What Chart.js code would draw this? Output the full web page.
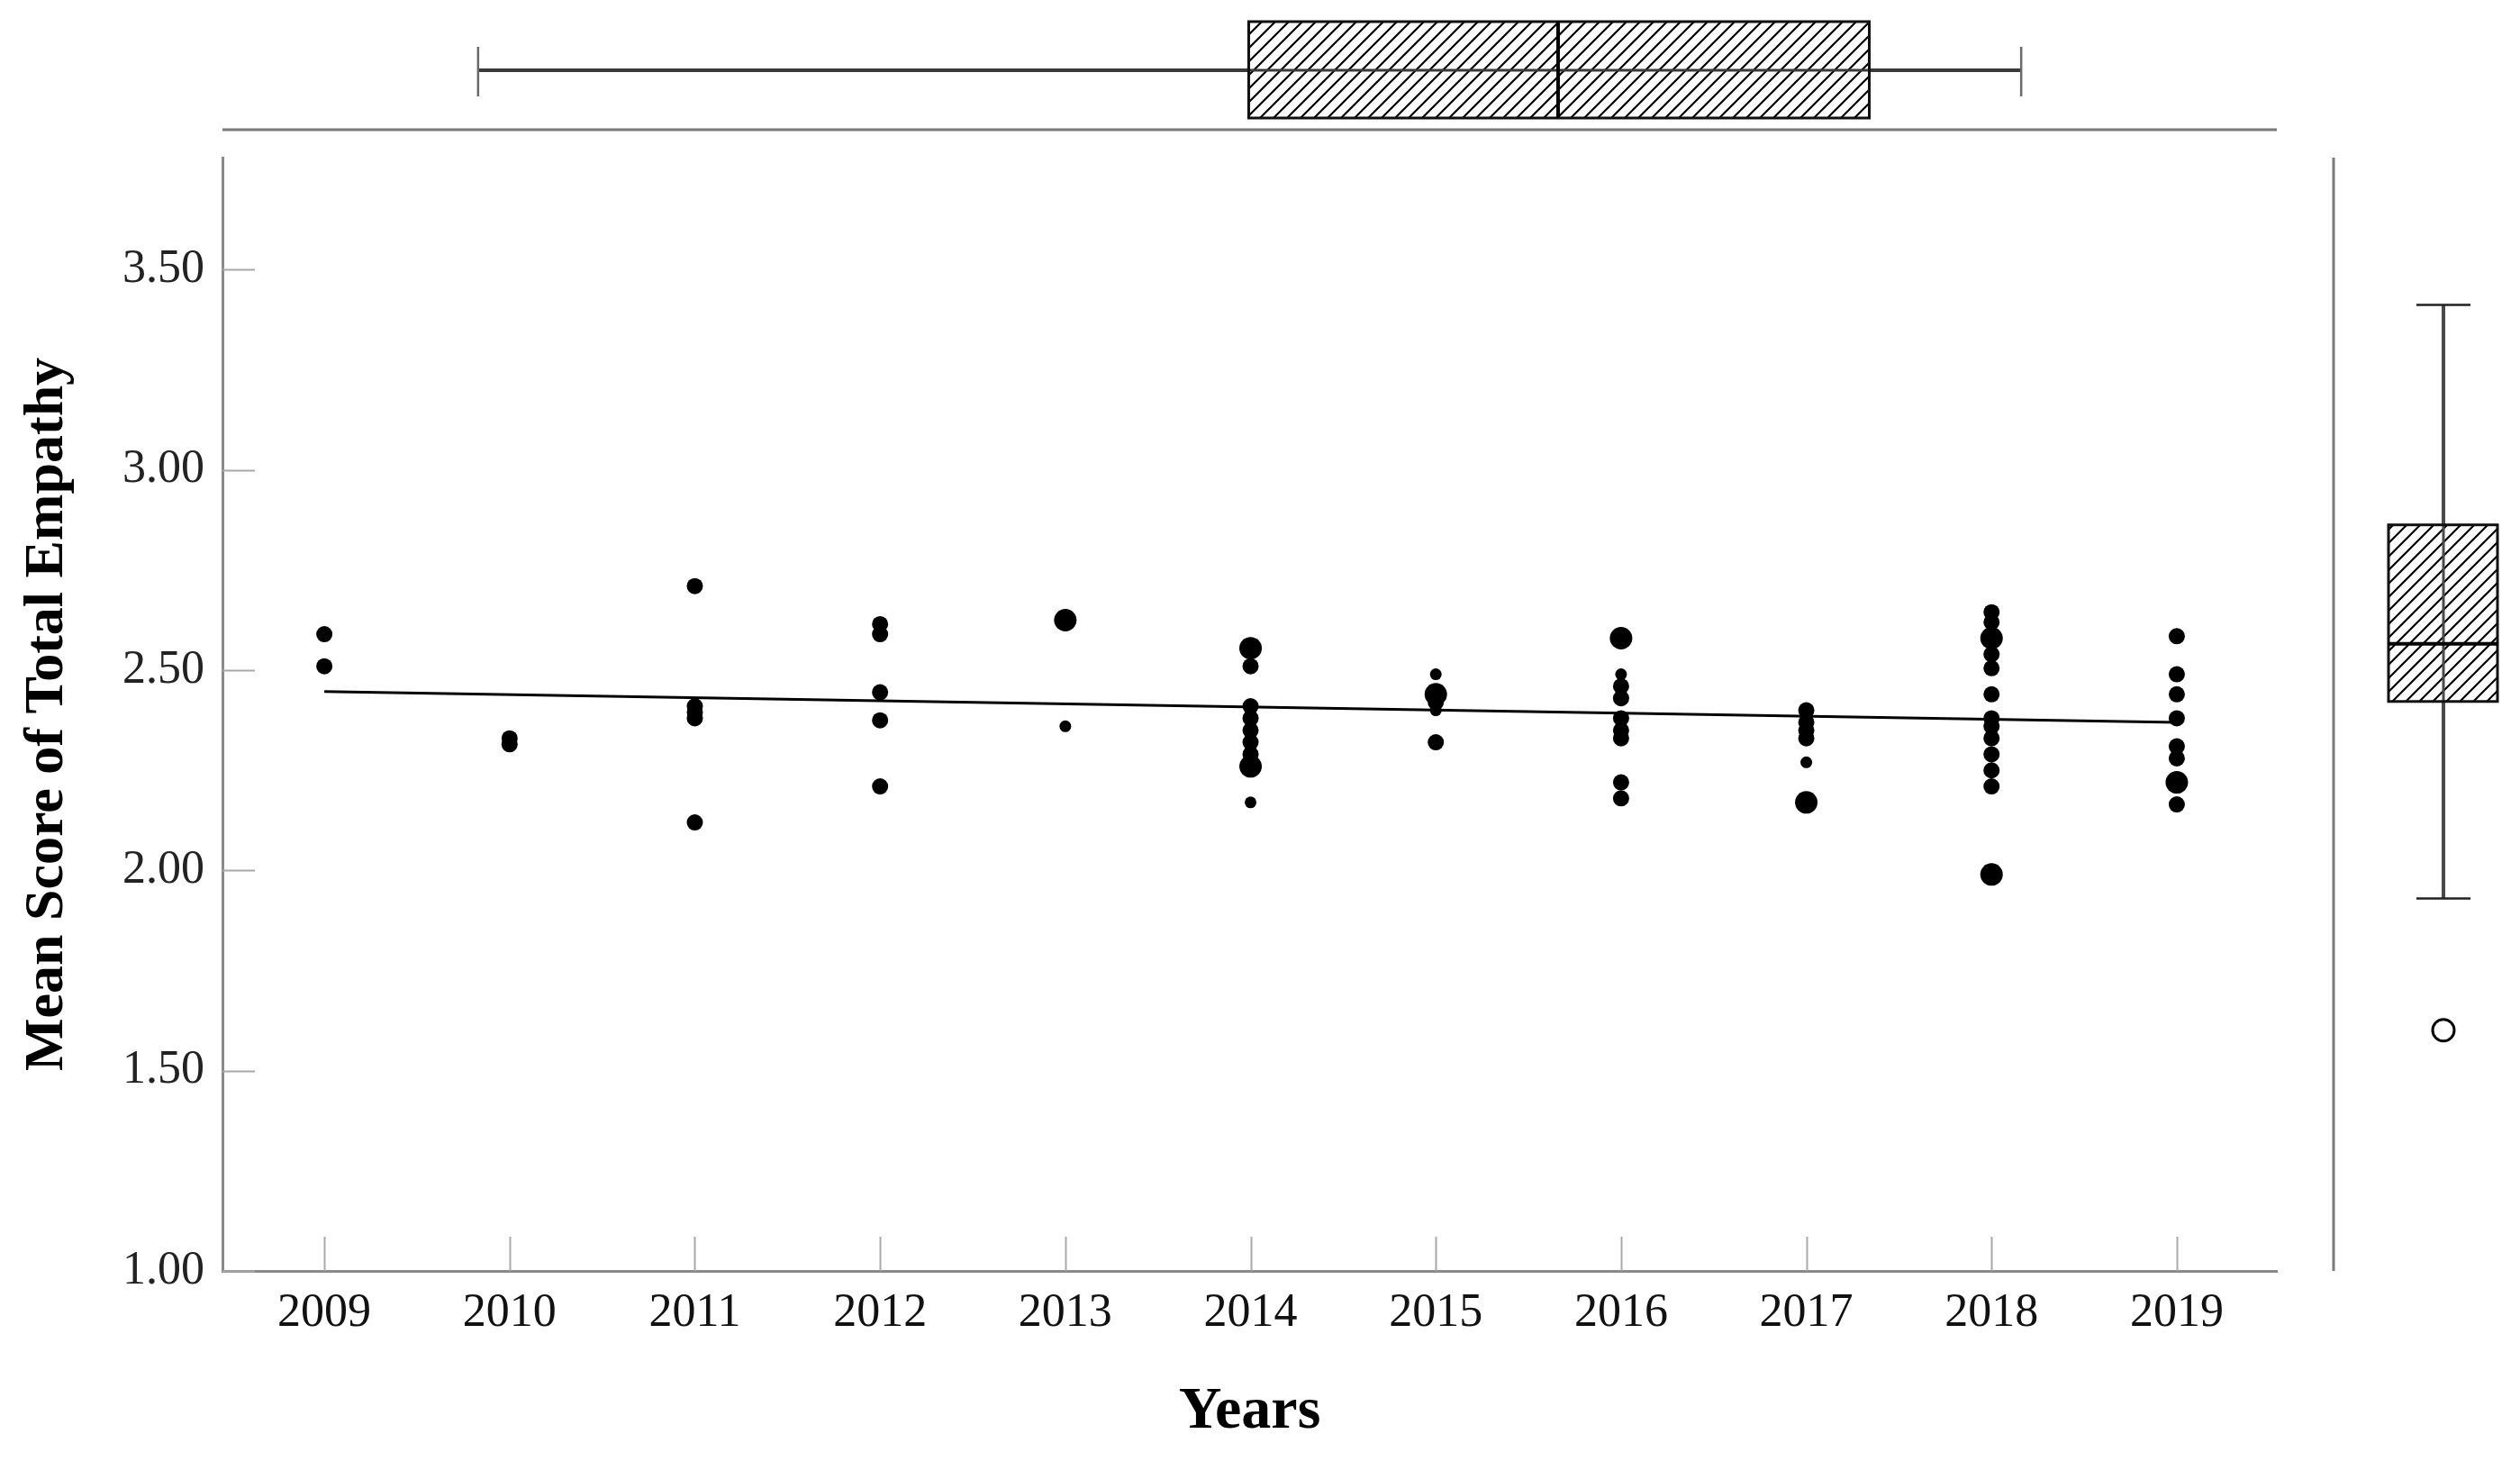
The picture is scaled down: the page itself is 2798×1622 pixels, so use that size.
<!DOCTYPE html>
<html>
<head>
<meta charset="utf-8">
<title>Mean Score of Total Empathy by Year</title>
<script src="https://cdn.jsdelivr.net/npm/chart.js@4.4.4/dist/chart.umd.min.js"></script>
<style>
  html, body { margin: 0; padding: 0; background: #fff; }
  #wrap { width: 2798px; height: 1622px; }
</style>
</head>
<body>
<div id="wrap"><canvas id="chart" width="2798" height="1622"></canvas></div>
<script>
// ─── Data ───────────────────────────────────────────────────────────────────

const YEARS = [2009, 2010, 2011, 2012, 2013, 2014, 2015, 2016, 2017, 2018, 2019];
const Y_TICKS = [1.00, 1.50, 2.00, 2.50, 3.00, 3.50];

// scores per year, grouped by marker size (index matches YEARS)
const SCORES = [
    [2.59, 2.51],
    [2.33, 2.315],
    [2.71, 2.41, 2.395, 2.38, 2.12],
    [2.615, 2.59, 2.445, 2.375, 2.21],
    [],
    [2.51, 2.41, 2.38, 2.35, 2.32, 2.29],
    [2.42, 2.32],
    [2.46, 2.43, 2.38, 2.35, 2.33, 2.22, 2.18],
    [2.40, 2.37, 2.35, 2.33],
    [2.645, 2.62, 2.54, 2.505, 2.44, 2.38, 2.36, 2.33, 2.29, 2.25, 2.21],
    [2.585, 2.49, 2.44, 2.38, 2.31, 2.28, 2.165]
];
const SCORES_LARGE = [
    [], [], [], [],
    [2.625],
    [2.555, 2.26],
    [2.44],
    [2.58],
    [2.17],
    [2.58, 1.99],
    [2.22]
];
const SCORES_SMALL = [
    [], [], [], [],
    [2.36],
    [2.17],
    [2.49, 2.40],
    [2.49],
    [2.27],
    [], []
];

// linear fit line end points
const FIT_YEARS = [2009, 2019];
const FIT_SCORES = [2.447, 2.370];

// marginal boxplots: [lower whisker, Q1, median, Q3, upper whisker]
const YEAR_BOX = [2009.83, 2013.99, 2015.66, 2017.34, 2018.16];
const SCORE_BOX = [1.930, 2.422, 2.566, 2.863, 3.412];
const SCORE_OUTLIERS = [1.601];

// ─── Helpers ────────────────────────────────────────────────────────────────

const toPoints = groups => YEARS.flatMap((yr, i) => groups[i].map(s => ({ x: yr, y: s })));

function hatchPattern(ctx) {
    const s = 15;
    const c = document.createElement('canvas');
    c.width = s; c.height = s;
    const g = c.getContext('2d');
    g.fillStyle = '#fff';
    g.fillRect(0, 0, s, s);
    g.strokeStyle = '#000';
    g.lineWidth = 2.2;
    g.beginPath();
    g.moveTo(0, s); g.lineTo(s, 0);
    g.moveTo(-2, 2); g.lineTo(2, -2);
    g.moveTo(s - 2, s + 2); g.lineTo(s + 2, s - 2);
    g.stroke();
    return ctx.createPattern(c, 'repeat');
}

function line(ctx, x1, y1, x2, y2) {
    ctx.beginPath();
    ctx.moveTo(x1, y1);
    ctx.lineTo(x2, y2);
    ctx.stroke();
}

// ─── Plugins ────────────────────────────────────────────────────────────────

// ticks drawn inward, as in the original
const inwardTicks = {
    id: 'inwardTicks',
    beforeDatasetsDraw(chart) {
        const { ctx, chartArea: a, scales: { x, y } } = chart;
        ctx.save();
        ctx.strokeStyle = '#a8a8a8';
        ctx.lineWidth = 2;
        x.ticks.forEach(t => {
            const px = Math.round(x.getPixelForValue(t.value)) + 0.5;
            line(ctx, px, a.bottom, px, a.bottom - 38);
        });
        y.ticks.forEach(t => {
            const py = Math.round(y.getPixelForValue(t.value)) + 0.5;
            line(ctx, a.left, py, a.left + 36, py);
        });
        ctx.restore();
    }
};

// marginal boxplots above and to the right of the plot
const marginBoxes = {
    id: 'marginBoxes',
    afterDraw(chart) {
        const { ctx, chartArea: a, scales: { x, y } } = chart;
        const hatch = hatchPattern(ctx);
        ctx.save();

        // top: Years
        const [xw0, xq1, xmed, xq3, xw1] = YEAR_BOX.map(v => x.getPixelForValue(v));
        const bTop = 24, bBot = 131, wy = 78;
        ctx.strokeStyle = '#7a7a7a';
        ctx.lineWidth = 3;
        line(ctx, a.left, 144, a.right, 144);
        ctx.strokeStyle = '#3a3a3a';
        ctx.lineWidth = 4;
        line(ctx, xw0, wy, xw1, wy);
        ctx.strokeStyle = '#6a6a6a';
        ctx.lineWidth = 2.5;
        line(ctx, xw0, 52, xw0, 107);
        line(ctx, xw1, 52, xw1, 107);
        ctx.fillStyle = hatch;
        ctx.fillRect(xq1, bTop, xq3 - xq1, bBot - bTop);
        ctx.strokeStyle = '#3a3a3a';
        ctx.lineWidth = 3;
        line(ctx, xq1, wy, xq3, wy);
        ctx.strokeStyle = '#111';
        ctx.strokeRect(xq1, bTop, xq3 - xq1, bBot - bTop);
        ctx.lineWidth = 4;
        ctx.strokeStyle = '#000';
        line(ctx, xmed, bTop, xmed, bBot);

        // right: Mean Score
        const [yw0, yq1, ymed, yq3, yw1] = SCORE_BOX.map(v => y.getPixelForValue(v));
        const bL = 2652, bR = 2773, wx = 2713;
        ctx.strokeStyle = '#7a7a7a';
        ctx.lineWidth = 3;
        line(ctx, 2591, a.top, 2591, a.bottom);
        ctx.strokeStyle = '#4a4a4a';
        ctx.lineWidth = 4;
        line(ctx, wx, yw1, wx, yw0);
        ctx.strokeStyle = '#222';
        ctx.lineWidth = 2.5;
        line(ctx, 2683, yw1, 2743, yw1);
        line(ctx, 2683, yw0, 2743, yw0);
        ctx.fillStyle = hatch;
        ctx.fillRect(bL, yq3, bR - bL, yq1 - yq3);
        ctx.strokeStyle = '#4a4a4a';
        ctx.lineWidth = 3;
        line(ctx, wx, yq3, wx, yq1);
        ctx.strokeStyle = '#111';
        ctx.strokeRect(bL, yq3, bR - bL, yq1 - yq3);
        ctx.lineWidth = 4;
        ctx.strokeStyle = '#000';
        line(ctx, bL, ymed, bR, ymed);

        ctx.lineWidth = 3;
        ctx.strokeStyle = '#000';
        SCORE_OUTLIERS.forEach(v => {
            ctx.beginPath();
            ctx.arc(wx, y.getPixelForValue(v), 12, 0, Math.PI * 2);
            ctx.stroke();
        });

        ctx.restore();
    }
};

// ─── Chart ──────────────────────────────────────────────────────────────────

Chart.defaults.font.family = "'Liberation Serif', 'Times New Roman', serif";
Chart.defaults.color = '#000';

const dotStyle = r => ({
    pointRadius: r,
    pointHoverRadius: r,
    pointBackgroundColor: '#000',
    pointBorderWidth: 0,
    showLine: false
});

new Chart(document.getElementById('chart'), {
    type: 'scatter',
    data: {
        datasets: [
            { label: 'Score', data: toPoints(SCORES), ...dotStyle(9) },
            { label: 'Score (large)', data: toPoints(SCORES_LARGE), ...dotStyle(12.5) },
            { label: 'Score (small)', data: toPoints(SCORES_SMALL), ...dotStyle(6.5) },
            {
                label: 'Linear fit',
                data: FIT_YEARS.map((yr, i) => ({ x: yr, y: FIT_SCORES[i] })),
                showLine: true,
                borderColor: '#000',
                borderWidth: 3,
                pointRadius: 0,
                order: -1
            }
        ]
    },
    options: {
        responsive: false,
        animation: false,
        devicePixelRatio: 1,
        layout: { padding: { left: 0, right: 270, top: 175, bottom: 0 } },
        plugins: {
            legend: { display: false },
            tooltip: { enabled: false }
        },
        scales: {
            x: {
                type: 'linear',
                min: 2008.45,
                max: 2019.54,
                afterFit: s => { s.height = 211; },
                afterBuildTicks: s => { s.ticks = YEARS.map(v => ({ value: v })); },
                grid: { display: false },
                border: { display: true, color: '#8a8a8a', width: 3 },
                ticks: {
                    padding: 8,
                    color: '#111',
                    font: { size: 52 },
                    callback: v => String(v)
                },
                title: {
                    display: true,
                    text: 'Years',
                    color: '#000',
                    font: { size: 66, weight: 'bold' },
                    padding: { top: 0, bottom: 14 }
                }
            },
            y: {
                min: 1,
                max: 3.78,
                afterFit: s => { s.width = 247; },
                afterBuildTicks: s => { s.ticks = Y_TICKS.map(v => ({ value: v })); },
                grid: { display: false },
                border: { display: true, color: '#8a8a8a', width: 3 },
                ticks: {
                    padding: 12,
                    color: '#222',
                    font: { size: 52 },
                    callback: v => Number(v).toFixed(2)
                },
                title: {
                    display: true,
                    text: 'Mean Score of Total Empathy',
                    color: '#000',
                    font: { size: 62, weight: 'bold' },
                    padding: { top: 16, bottom: 0 }
                }
            }
        }
    },
    plugins: [inwardTicks, marginBoxes]
});
</script>
</body>
</html>
